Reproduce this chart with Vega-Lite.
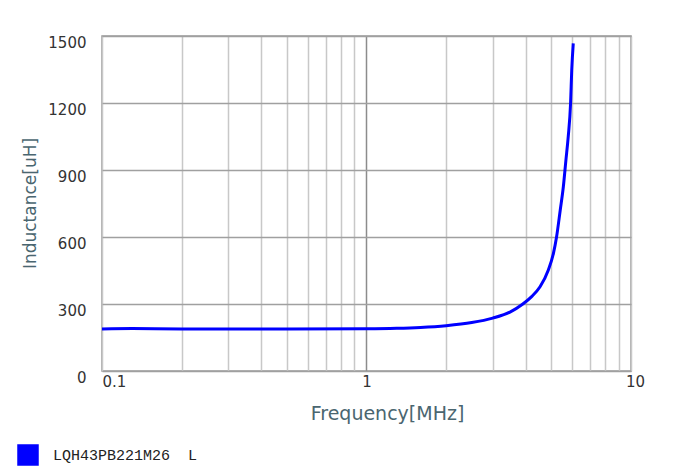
{
  "$schema": "https://vega.github.io/schema/vega-lite/v6.json",
  "width": 529,
  "height": 335,
  "autosize": {"type": "none"},
  "padding": {"left": 102, "top": 36, "right": 45, "bottom": 101},
  "background": "white",
  "config": {
    "view": {"stroke": "#999999", "strokeWidth": 1.5},
    "font": "DejaVu Sans"
  },
  "data": {
    "values": [
      {"f": 0.1, "L": 188, "series": "LQH43PB221M26\u00a0\u00a0L"},
      {"f": 0.13, "L": 190, "series": "LQH43PB221M26\u00a0\u00a0L"},
      {"f": 0.2, "L": 188, "series": "LQH43PB221M26\u00a0\u00a0L"},
      {"f": 0.5, "L": 188, "series": "LQH43PB221M26\u00a0\u00a0L"},
      {"f": 1.0, "L": 189, "series": "LQH43PB221M26\u00a0\u00a0L"},
      {"f": 1.3, "L": 191, "series": "LQH43PB221M26\u00a0\u00a0L"},
      {"f": 1.6, "L": 195, "series": "LQH43PB221M26\u00a0\u00a0L"},
      {"f": 2.0, "L": 203, "series": "LQH43PB221M26\u00a0\u00a0L"},
      {"f": 2.5, "L": 217, "series": "LQH43PB221M26\u00a0\u00a0L"},
      {"f": 3.0, "L": 237, "series": "LQH43PB221M26\u00a0\u00a0L"},
      {"f": 3.5, "L": 265, "series": "LQH43PB221M26\u00a0\u00a0L"},
      {"f": 3.9, "L": 300, "series": "LQH43PB221M26\u00a0\u00a0L"},
      {"f": 4.21, "L": 333, "series": "LQH43PB221M26\u00a0\u00a0L"},
      {"f": 4.53, "L": 377, "series": "LQH43PB221M26\u00a0\u00a0L"},
      {"f": 4.87, "L": 452, "series": "LQH43PB221M26\u00a0\u00a0L"},
      {"f": 5.09, "L": 527, "series": "LQH43PB221M26\u00a0\u00a0L"},
      {"f": 5.23, "L": 600, "series": "LQH43PB221M26\u00a0\u00a0L"},
      {"f": 5.4, "L": 720, "series": "LQH43PB221M26\u00a0\u00a0L"},
      {"f": 5.55, "L": 826, "series": "LQH43PB221M26\u00a0\u00a0L"},
      {"f": 5.67, "L": 940, "series": "LQH43PB221M26\u00a0\u00a0L"},
      {"f": 5.79, "L": 1049, "series": "LQH43PB221M26\u00a0\u00a0L"},
      {"f": 5.91, "L": 1200, "series": "LQH43PB221M26\u00a0\u00a0L"},
      {"f": 5.97, "L": 1348, "series": "LQH43PB221M26\u00a0\u00a0L"},
      {"f": 6.05, "L": 1467, "series": "LQH43PB221M26\u00a0\u00a0L"}
    ]
  },
  "mark": {"type": "line", "strokeWidth": 3, "interpolate": "monotone"},
  "encoding": {
    "x": {
      "field": "f",
      "type": "quantitative",
      "scale": {"type": "log", "domain": [0.1, 10], "nice": false},
      "axis": {
        "values": [0.1, 0.2, 0.3, 0.4, 0.5, 0.6, 0.7, 0.8, 0.9, 1, 2, 3, 4, 5, 6, 7, 8, 9, 10],
        "labelExpr": "(datum.value == 0.1 || datum.value == 1 || datum.value == 10) ? datum.label : ''",
        "ticks": false,
        "domain": false,
        "grid": true,
        "gridColor": {"condition": {"test": "datum.value == 1", "value": "#8c8c8c"}, "value": "#c8c8c8"},
        "gridWidth": 1.5,
        "labelFont": "DejaVu Sans",
        "labelFontSize": 15,
        "labelColor": "#333333",
        "labelPadding": 3,
        "labelFlush": false,
        "labelAlign": {"condition": {"test": "datum.value == 0.1", "value": "left"}, "value": "center"},
        "labelOffset": {"condition": {"test": "datum.value == 10", "value": 4}, "value": 0},
        "title": "Frequency[MHz]",
        "titleFont": "DejaVu Sans",
        "titleFontSize": 19,
        "titleFontWeight": "normal",
        "titleColor": "#4a6670",
        "titleX": 285,
        "titleY": 42,
        "titleBaseline": "middle",
        "titleAnchor": "middle",
        "titleAlign": "center"
      }
    },
    "y": {
      "field": "L",
      "type": "quantitative",
      "scale": {"domain": [0, 1500], "nice": false},
      "axis": {
        "values": [0, 300, 600, 900, 1200, 1500],
        "format": "d",
        "ticks": false,
        "domain": false,
        "grid": true,
        "gridColor": "#a0a0a0",
        "gridWidth": 1.5,
        "labelFont": "DejaVu Sans",
        "labelFontSize": 15,
        "labelColor": "#333333",
        "labelPadding": 16,
        "labelOffset": 6,
        "title": "Inductance[uH]",
        "titleFont": "DejaVu Sans",
        "titleFontSize": 17,
        "titleFontWeight": "normal",
        "titleColor": "#4a6670",
        "titleX": -72,
        "titleY": 167,
        "titleAngle": -90,
        "titleAlign": "center",
        "titleBaseline": "middle"
      }
    },
    "color": {
      "field": "series",
      "type": "nominal",
      "scale": {"range": ["#0000ff"]},
      "legend": {
        "orient": "none",
        "legendX": -85,
        "legendY": 408,
        "title": null,
        "symbolType": "square",
        "symbolSize": 400,
        "symbolFillColor": "#0000ff",
        "symbolStrokeColor": "#555555",
        "symbolStrokeWidth": 1.5,
        "symbolOpacity": 1,
        "labelFont": "Liberation Mono",
        "labelFontSize": 15,
        "labelColor": "#222222",
        "labelOffset": 14
      }
    }
  }
}
